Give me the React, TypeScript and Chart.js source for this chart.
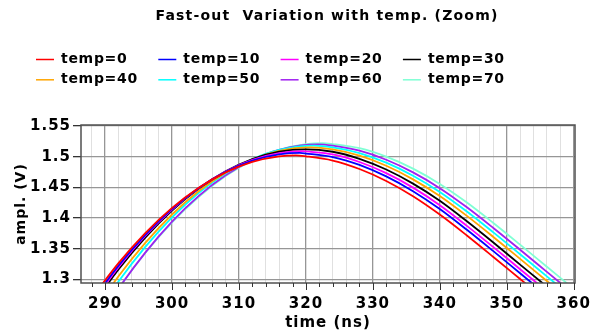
import React, { useEffect, useRef } from 'react';
import { Chart, registerables } from 'chart.js';

Chart.register(...registerables);

const chartTitle = 'Fast-out  Variation with temp. (Zoom)';
const xAxisTitle = 'time (ns)';
const yAxisTitle = 'ampl. (V)';

const seriesLabels = ['temp=0', 'temp=10', 'temp=20', 'temp=30', 'temp=40', 'temp=50', 'temp=60', 'temp=70'];
const seriesColors = ['#ff0000', '#0000ff', '#ff00ff', '#000000', '#ffa500', '#00ffff', '#a020f0', '#7fffd4'];

const time0 = [288, 292, 296, 300, 304, 308, 312, 316, 318.5, 320, 324, 328, 332, 336, 340, 344, 348, 352, 356];
const ampl0 = [1.2694, 1.3264, 1.3754, 1.4164, 1.4494, 1.4744, 1.4914, 1.5004, 1.502, 1.5005, 1.4937, 1.4799, 1.4604, 1.4355, 1.4056, 1.3719, 1.3365, 1.3005, 1.2645];
const time10 = [288, 292, 296, 300, 304, 308, 312, 316, 319.1, 320, 324, 328, 332, 336, 340, 344, 348, 352, 356];
const ampl10 = [1.2642, 1.3224, 1.3726, 1.4148, 1.449, 1.4752, 1.4934, 1.5036, 1.506, 1.5051, 1.4994, 1.4866, 1.4678, 1.4437, 1.4146, 1.3811, 1.3459, 1.3099, 1.2739];
const time20 = [288, 292, 296, 300, 304, 308, 312, 316, 319.5, 320, 324, 328, 332, 336, 340, 344, 348, 352, 356];
const ampl20 = [1.2609, 1.3199, 1.3709, 1.4139, 1.4489, 1.4759, 1.4949, 1.5059, 1.509, 1.5085, 1.5036, 1.4913, 1.4731, 1.4495, 1.4209, 1.3876, 1.3525, 1.3165, 1.2805];
const time30 = [288, 292, 296, 300, 304, 308, 312, 316, 320, 324, 328, 332, 336, 340, 344, 348, 352, 356, 360];
const ampl30 = [1.256, 1.316, 1.368, 1.412, 1.448, 1.476, 1.496, 1.508, 1.512, 1.508, 1.4965, 1.479, 1.456, 1.428, 1.395, 1.36, 1.324, 1.288, 1.252];
const time40 = [288, 292, 296, 300, 304, 308, 312, 316, 320.7, 324, 328, 332, 336, 340, 344, 348, 352, 356, 360];
const ampl40 = [1.2423, 1.305, 1.3594, 1.4057, 1.4439, 1.4739, 1.4957, 1.5094, 1.515, 1.5117, 1.5015, 1.4851, 1.463, 1.4359, 1.4038, 1.3691, 1.3333, 1.2973, 1.2613];
const time50 = [288, 292, 296, 300, 304, 308, 312, 316, 321.2, 324, 328, 332, 336, 340, 344, 348, 352, 356, 360];
const ampl50 = [1.2314, 1.2963, 1.3529, 1.4011, 1.4411, 1.4727, 1.496, 1.511, 1.518, 1.5152, 1.5059, 1.4902, 1.4689, 1.4424, 1.4109, 1.3765, 1.3408, 1.3048, 1.2688];
const time60 = [288, 292, 296, 300, 304, 308, 312, 316, 321.8, 324, 328, 332, 336, 340, 344, 348, 352, 356, 360];
const ampl60 = [1.2173, 1.2847, 1.3436, 1.3941, 1.436, 1.4695, 1.4946, 1.5111, 1.52, 1.5178, 1.5097, 1.4949, 1.4743, 1.4486, 1.4178, 1.3837, 1.3482, 1.3122, 1.2762];
const time70 = [288, 292, 296, 300, 304, 308, 312, 316, 320, 322.5, 324, 328, 332, 336, 340, 344, 348, 352, 356, 360];
const ampl70 = [1.2185, 1.2848, 1.3429, 1.3929, 1.4347, 1.4684, 1.4939, 1.5112, 1.5204, 1.522, 1.5205, 1.5137, 1.4999, 1.4804, 1.4555, 1.4256, 1.3919, 1.3565, 1.3205, 1.2845];

const seriesTimes = [time0, time10, time20, time30, time40, time50, time60, time70];
const seriesAmpl = [ampl0, ampl10, ampl20, ampl30, ampl40, ampl50, ampl60, ampl70];

const xMin = 286.4;
const xMax = 360.2;
const xStep = 2;
const xLabelEvery = 10;
const yMin = 1.294;
const yMax = 1.5516;
const yStep = 0.05;

const FONT = '"DejaVu Sans", sans-serif';

const decorPlugin = {
  id: 'decor',
  beforeUpdate(chart: any) {
    chart.ctx.letterSpacing = '1px';
  },
  beforeDraw(chart: any) {
    chart.ctx.letterSpacing = '1px';
  },
  afterDraw(chart: any) {
    const ctx = chart.ctx;
    const { left, right, top, bottom } = chart.chartArea;
    ctx.save();
    ctx.strokeStyle = '#505050';
    ctx.lineWidth = 1.5;
    ctx.strokeRect(left, top, right - left, bottom - top);
    const xs = chart.scales.x;
    ctx.strokeStyle = '#333333';
    ctx.lineWidth = 1;
    xs.ticks.forEach((t: any) => {
      const px = Math.round(xs.getPixelForValue(t.value)) + 0.5;
      const len = t.value % xLabelEvery === 0 ? 7 : 4;
      ctx.beginPath();
      ctx.moveTo(px, bottom);
      ctx.lineTo(px, bottom + len);
      ctx.stroke();
    });
    ctx.fillStyle = '#000';
    ctx.font = `bold 14px ${FONT}`;
    ctx.letterSpacing = '1.2px';
    ctx.textAlign = 'center';
    ctx.textBaseline = 'middle';
    ctx.fillText(chartTitle, 327, 16);
    ctx.font = `bold 14px ${FONT}`;
    ctx.letterSpacing = '0.7px';
    ctx.textAlign = 'left';
    chart.data.datasets.forEach((ds: any, i: number) => {
      const col = i % 4;
      const row = Math.floor(i / 4);
      const x0 = 36 + col * 122.3;
      const y0 = 59.5 + row * 20.3;
      ctx.strokeStyle = ds.borderColor;
      ctx.lineWidth = 1.5;
      ctx.beginPath();
      ctx.moveTo(x0, y0);
      ctx.lineTo(x0 + 18, y0);
      ctx.stroke();
      ctx.fillStyle = '#000';
      ctx.fillText(ds.label, x0 + 25, y0);
    });
    ctx.restore();
  },
};

export default function App() {
  const ref = useRef<HTMLCanvasElement | null>(null);
  useEffect(() => {
    if (!ref.current) return;
    const datasets = seriesLabels.map((label, i) => ({
      label,
      data: seriesTimes[i].map((t, j) => ({ x: t, y: seriesAmpl[i][j] })),
      borderColor: seriesColors[i],
      backgroundColor: seriesColors[i],
      borderWidth: 1.8,
      pointRadius: 0,
      cubicInterpolationMode: 'monotone' as const,
      fill: false,
    }));
    const tickFont = { family: FONT, size: 15, weight: 'bold' as const };
    const chart = new Chart(ref.current, {
      type: 'line',
      data: { datasets },
      plugins: [decorPlugin],
      options: {
        animation: false,
        responsive: false,
        devicePixelRatio: 1,
        layout: { padding: { top: 125, right: 16, left: 0, bottom: 0 } },
        plugins: {
          legend: { display: false },
          title: { display: false },
          tooltip: { enabled: false },
        },
        scales: {
          x: {
            type: 'linear',
            min: xMin,
            max: xMax,
            border: { display: false },
            grid: {
              color: (c: any) => (c.tick && c.tick.value % xLabelEvery === 0 ? '#969696' : '#e0e0e0'),
              lineWidth: (c: any) => (c.tick && c.tick.value % xLabelEvery === 0 ? 1.3 : 1),
              drawTicks: true,
              tickLength: 7,
              tickColor: 'transparent',
            },
            ticks: {
              stepSize: xStep,
              includeBounds: false,
              autoSkip: false,
              maxRotation: 0,
              padding: 5,
              color: '#000',
              font: tickFont,
              callback: (v: any) => (Number(v) % xLabelEvery === 0 ? String(v) : ''),
            },
            title: {
              display: true,
              text: xAxisTitle,
              color: '#000',
              font: tickFont,
              padding: { top: 0, bottom: 2 },
            },
            afterFit: (s: any) => {
              s.height = 51;
              s.paddingLeft = 0;
              s.paddingRight = 0;
            },
          },
          y: {
            type: 'linear',
            min: yMin,
            max: yMax,
            border: { display: false },
            grid: {
              color: '#969696',
              lineWidth: 1.3,
              drawTicks: true,
              tickLength: 8,
              tickColor: '#333333',
            },
            ticks: {
              stepSize: yStep,
              includeBounds: false,
              autoSkip: false,
              padding: 2,
              color: '#000',
              font: tickFont,
              callback: (v: any) => String(Math.round(Number(v) * 100) / 100),
            },
            title: {
              display: true,
              text: yAxisTitle,
              color: '#000',
              font: { family: FONT, size: 14, weight: 'bold' as const },
              padding: { top: 13, bottom: 0 },
            },
            afterFit: (s: any) => {
              s.width = 81;
              s.paddingTop = 0;
              s.paddingBottom = 0;
            },
          },
        },
      },
    });
    return () => chart.destroy();
  }, []);
  return (
    <div style={{ position: 'fixed', left: 0, top: 0, width: 591, height: 334, background: '#fff' }}>
      <canvas ref={ref} width={591} height={334} style={{ width: 591, height: 334, display: 'block' }} />
    </div>
  );
}
